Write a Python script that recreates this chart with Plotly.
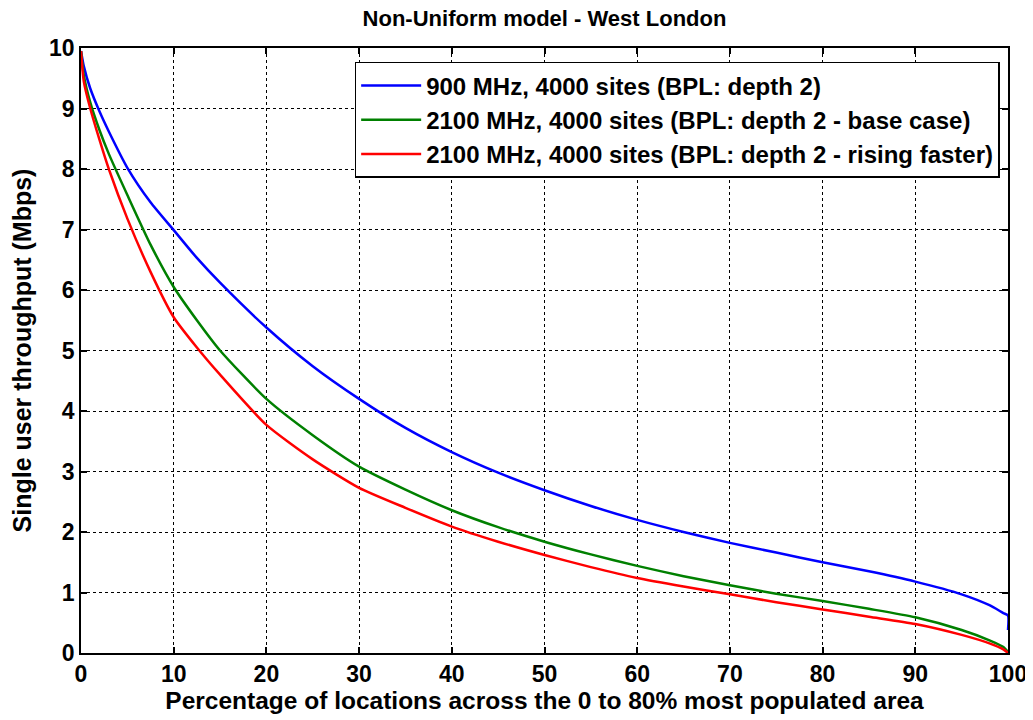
import plotly.graph_objects as go

# percentage of locations (x) and single-user throughput in Mbps (y)
x_pct = [0, 0.3, 1, 2, 3, 5, 7.5, 10, 12.5, 15, 20, 25, 30, 35, 40, 45, 50,
         55, 60, 65, 70, 75, 80, 85, 90, 95, 98, 99.5, 100, 100]

thr_900 = [9.95, 9.7, 9.33, 8.95, 8.62, 8.02, 7.45, 6.99, 6.53, 6.12, 5.38, 4.74,
           4.2, 3.72, 3.32, 2.98, 2.69, 2.43, 2.2, 2.0, 1.82, 1.66, 1.5, 1.35,
           1.18, 0.97, 0.79, 0.66, 0.62, 0.38]

thr_2100_base = [9.95, 9.55, 9.1, 8.64, 8.25, 7.57, 6.75, 6.05, 5.5, 5.0, 4.2, 3.6,
                 3.08, 2.7, 2.36, 2.08, 1.84, 1.63, 1.44, 1.27, 1.12, 0.98, 0.86,
                 0.73, 0.59, 0.38, 0.21, 0.1, 0.02, 0.02]

thr_2100_fast = [9.95, 9.45, 9.0, 8.48, 8.0, 7.18, 6.3, 5.55, 5.05, 4.6, 3.77, 3.2,
                 2.73, 2.4, 2.09, 1.84, 1.62, 1.42, 1.24, 1.1, 0.97, 0.84, 0.72,
                 0.6, 0.48, 0.3, 0.16, 0.06, 0.0, 0.0]

names = [
    "900 MHz, 4000 sites (BPL: depth 2)",
    "2100 MHz, 4000 sites (BPL: depth 2 - base case)",
    "2100 MHz, 4000 sites (BPL: depth 2 - rising faster)",
]
colors = ["#0000ff", "#008000", "#ff0000"]

FONT = "Liberation Sans, Arial, sans-serif"

fig = go.Figure()
for name, ys, c in zip(names, [thr_900, thr_2100_base, thr_2100_fast], colors):
    fig.add_trace(go.Scatter(
        x=x_pct, y=ys, mode="lines", name=name, legendgroup=name,
        line=dict(color=c, width=2.5, shape="spline", smoothing=0.6),
    ))

axis_common = dict(
    showline=True, linecolor="black", linewidth=1.5, mirror="ticks",
    ticks="inside", ticklen=6, tickcolor="black", tickwidth=1.5,
    showgrid=True, gridcolor="black", griddash="dot", gridwidth=1,
    zeroline=False, automargin=False,
    tickfont=dict(family=FONT, size=23, color="black", weight="bold"),
)

fig.update_xaxes(
    range=[0, 100], tickvals=list(range(0, 101, 10)),
    title=dict(text="<b>Percentage of locations across the 0 to 80% most populated area</b>",
               font=dict(family=FONT, size=24.5, color="black"), standoff=5),
    **axis_common,
)
fig.update_yaxes(
    range=[0, 10], tickvals=list(range(0, 11)),
    title=dict(text="<b>Single user throughput (Mbps)</b>",
               font=dict(family=FONT, size=25, color="black"), standoff=10),
    **axis_common,
)

# the page body adds an 8px offset, so the figure is 8px smaller than the window
fig.update_layout(
    width=1025, height=712,
    paper_bgcolor="white", plot_bgcolor="white",
    margin=dict(l=73, r=25, t=40, b=67),
    title=dict(text="<b>Non-Uniform model - West London</b>",
               xref="paper", x=0.5, xanchor="center",
               yref="container", y=0.996, yanchor="top",
               font=dict(family=FONT, size=22, color="black")),
    legend=dict(
        x=0.991, y=0.977, xanchor="right", yanchor="top",
        bgcolor="white", bordercolor="black", borderwidth=1.5,
        font=dict(family=FONT, size=24, color="black", weight="bold"),
        itemwidth=60, tracegroupgap=0,
    ),
    showlegend=True,
)

fig.write_html("out.html")
